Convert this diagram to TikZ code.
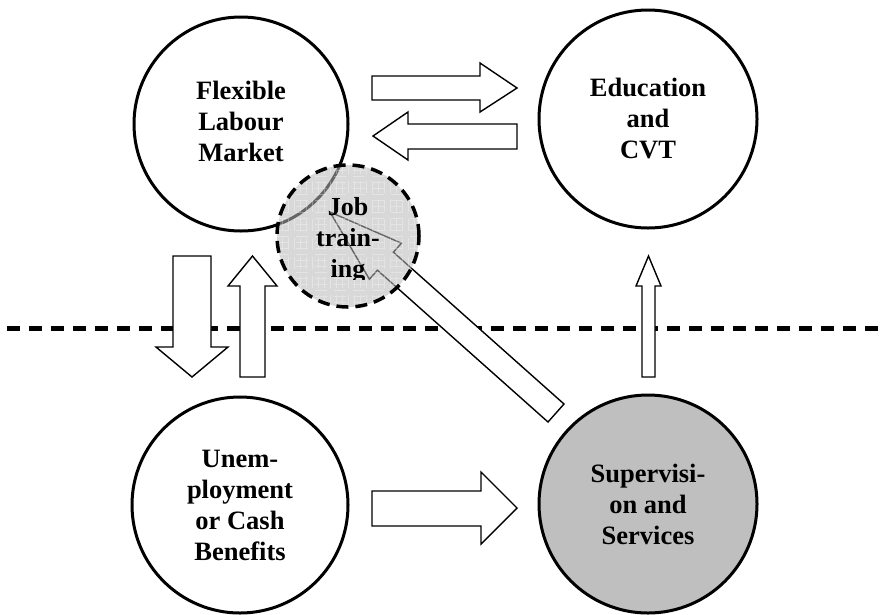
\documentclass[tikz,border=0pt]{standalone}
\usepackage{fontspec}
\setmainfont{Liberation Serif}
\definecolor{supgray}{gray}{0.75}
\definecolor{jobgray}{gray}{0.72}
\begin{document}
\begin{tikzpicture}[x=1pt,y=-1pt,
  bigcirc/.style={circle, draw, line width=3pt, minimum size=#1, inner sep=0pt, align=center,
    font=\fontsize{26.5}{31}\bfseries\selectfont},
  blockarrow/.style={draw, fill=white, line width=1.4pt, line join=miter},
  labeltext/.style={align=center, inner sep=0pt, font=\fontsize{26}{31}\bfseries\selectfont}
]
\useasboundingbox (0,0) rectangle (882,614);
% dashed divider
\draw[line width=5pt, dash pattern=on 13pt off 9pt] (7,328) -- (882,328);

% main circles
\node[bigcirc=214pt] (flm) at (241,124) {\raisebox{5pt}{\begin{tabular}{@{}c@{}}Flexible\\Labour\\Market\end{tabular}}};
\node[bigcirc=218pt] (edu) at (648,119) {Education\\and\\ CVT};
\node[bigcirc=216pt] (unemp) at (240,505) {Unem-\\ployment\\or Cash\\Benefits};
\node[bigcirc=218pt, fill=supgray] (sup) at (648,504) {Supervisi-\\on and\\Services};

% block arrows
\draw[blockarrow] (372,76) -- (480,76) -- (480,63) -- (517,88) -- (480,112) -- (480,100) -- (372,100) -- cycle;
\draw[blockarrow] (517,124) -- (408,124) -- (408,112) -- (373,136) -- (408,160) -- (408,149) -- (517,149) -- cycle;
\draw[blockarrow] (173,256) -- (211,256) -- (211,347) -- (228,347) -- (192,377) -- (156,347) -- (173,347) -- cycle;
\draw[blockarrow] (240,377) -- (265,377) -- (265,286) -- (277,286) -- (252.5,256) -- (228,286) -- (240,286) -- cycle;
\draw[blockarrow] (642,377) -- (655,377) -- (655,286) -- (661,286) -- (648.5,256) -- (636,286) -- (642,286) -- cycle;
\draw[blockarrow] (372,491) -- (481,491) -- (481,472) -- (517,508) -- (481,544) -- (481,526) -- (372,526) -- cycle;
% diagonal arrow from supervision to job training
\draw[blockarrow] (330,212) -- (401.4,243.2) -- (393.4,252.2) -- (564,404) -- (548,422) -- (377.4,270.2) -- (369.4,279.2) -- cycle;

% job training circle on top, semi-transparent
\node[circle, minimum size=142pt, inner sep=0pt, draw, line width=3.5pt, dash pattern=on 12pt off 7pt,
      fill=jobgray, fill opacity=0.55,
      path picture={\draw[white, line width=0.8pt, opacity=0.3, step=6pt]
        (path picture bounding box.south west) grid (path picture bounding box.north east);}]
      (job) at (348,236) {};
\begin{scope}
  \clip (270,150) rectangle (430,279);
  \node[labeltext] (jobtext) at (348,240) {Job\\train-\\ing};
\end{scope}
\end{tikzpicture}
\end{document}
